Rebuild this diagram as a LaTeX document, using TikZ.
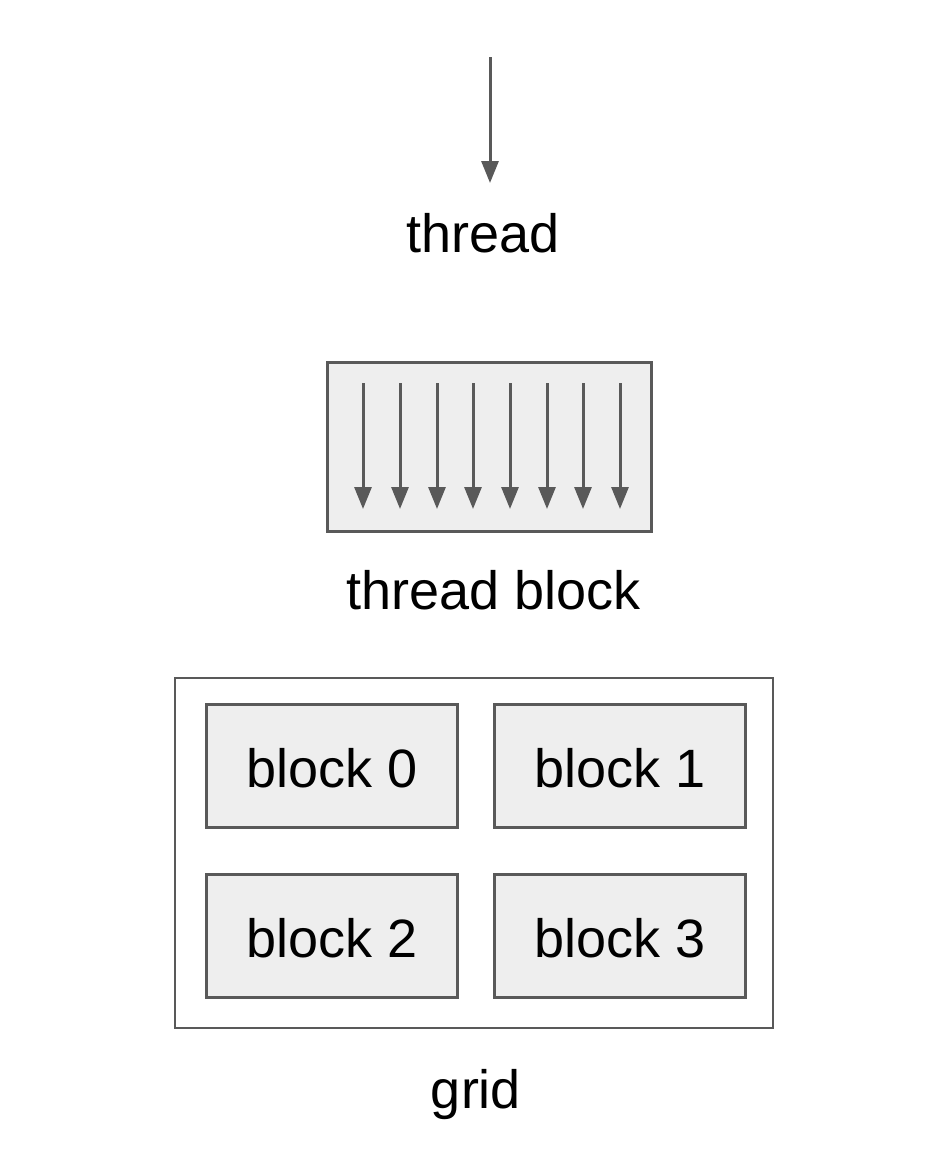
\documentclass[tikz,border=0pt]{standalone}
\usepackage{fontspec}
\setmainfont{Liberation Sans}
\usetikzlibrary{arrows.meta}
\definecolor{edge}{HTML}{595959}
\definecolor{boxfill}{HTML}{EEEEEE}
\begin{document}
\begin{tikzpicture}[x=1pt,y=-1pt,
  lbl/.style={font=\fontsize{54}{60}\selectfont, anchor=base, inner sep=0pt},
  arr/.style={draw=edge, line width=3pt, -{Triangle[length=22pt,width=17pt]}},
  blockbox/.style={draw=edge, fill=boxfill, line width=3pt, minimum width=251pt, minimum height=123pt, inner sep=0pt, anchor=north west},
]
\useasboundingbox (0,0) rectangle (935,1175);
% single thread
\coordinate (t0) at (490,57);
\coordinate (t1) at (490,183);
\draw[arr] (t0) -- (t1);
\node[lbl] (threadlbl) at (483,252) {thread};
% thread block
\node[draw=edge, fill=boxfill, line width=3pt, minimum width=324pt, minimum height=169pt, inner sep=0pt, anchor=north west] (tb) at (326,361) {};
\foreach \i/\x in {1/363,2/400,3/437,4/473,5/510,6/547,7/583,8/620}{
  \coordinate (a\i) at (\x,383);
  \coordinate (b\i) at (\x,509);
  \draw[arr] (a\i) -- (b\i);
}
\node[lbl] (tblbl) at (494,609) {thread block};
% grid
\node[draw=edge, line width=2.2pt, minimum width=598pt, minimum height=350pt, inner sep=0pt, anchor=north west] (grid) at (174,677) {};
\node[blockbox] (b0) at (205,703) {};
\node[blockbox] (b1) at (493,703) {};
\node[blockbox] (b2) at (205,873) {};
\node[blockbox] (b3) at (493,873) {};
\node[lbl] at (332,787) {block 0};
\node[lbl] at (620,787) {block 1};
\node[lbl] at (332,957) {block 2};
\node[lbl] at (620,957) {block 3};
\node[lbl] (gridlbl) at (476,1108) {grid};
\end{tikzpicture}
\end{document}
